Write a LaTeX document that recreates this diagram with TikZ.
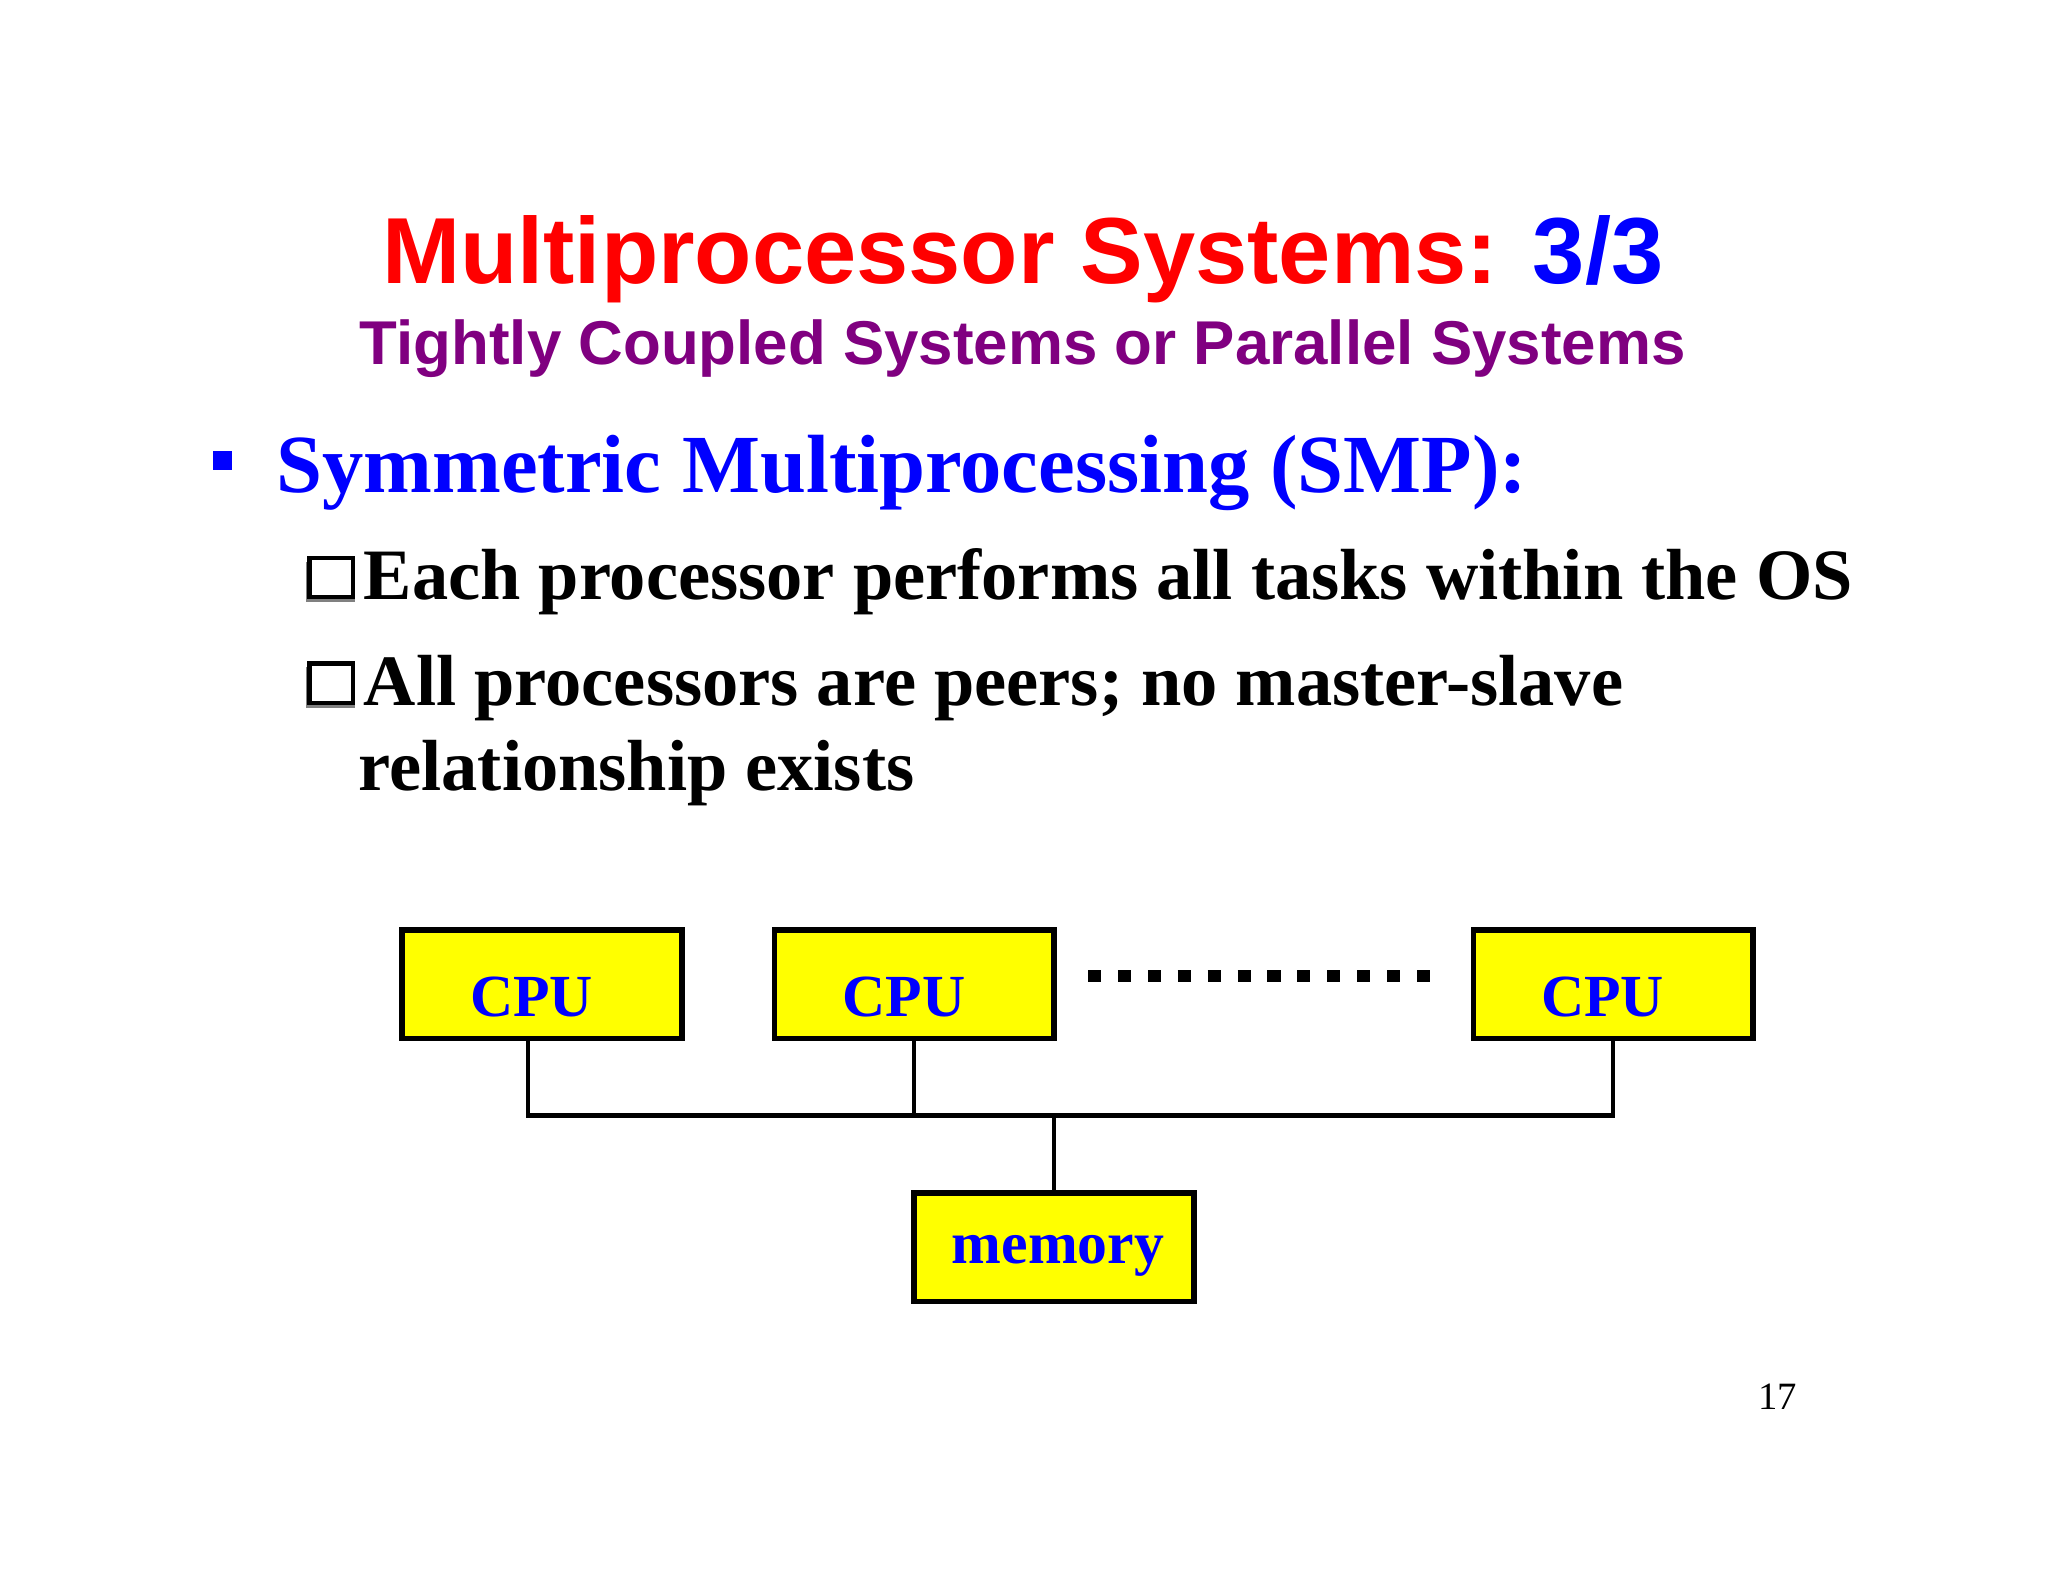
\documentclass[tikz,border=0pt]{standalone}
\usepackage{fontspec}
\setmainfont{Liberation Serif}
\newfontfamily\arialf{Liberation Sans}
\definecolor{ttlred}{RGB}{255,0,0}
\definecolor{ttlblue}{RGB}{0,0,255}
\definecolor{purp}{RGB}{128,0,128}
\definecolor{yel}{RGB}{255,255,0}
\begin{document}
\begin{tikzpicture}[x=0.01306cm,y=-0.01306cm,
  box/.style={draw=black,line width=1.6pt,fill=yel,minimum width=214*0.01306cm,minimum height=83*0.01306cm,inner sep=0pt},
  boxtxt/.style={font=\fontsize{17}{20}\selectfont\bfseries,text=ttlblue,anchor=base,inner sep=0pt},
  wire/.style={line width=1.2pt}]
\useasboundingbox (0,0) rectangle (1568,1211);
\node[font=\arialf\fontsize{26.7}{32}\selectfont\bfseries,anchor=base] (ttl) at (783,217) {\textcolor{ttlred}{Multiprocessor Systems:} \textcolor{ttlblue}{3/3}};
\node[font=\arialf\fontsize{17.6}{20}\selectfont\bfseries,text=purp,anchor=base] (sub) at (783,279) {Tightly Coupled Systems or Parallel Systems};
\fill[ttlblue] (163,345) rectangle (178,360);
\node[font=\fontsize{23.5}{28}\selectfont\bfseries,text=ttlblue,anchor=base west,inner sep=0pt] (smp) at (211,377) {Symmetric Multiprocessing (SMP):};
\foreach \yy in {424,505}{
  \fill[gray] (234,\yy+6) rectangle (272,\yy+37);
  \draw[line width=1.2pt,fill=white] (237,\yy+3) rectangle (270,\yy+33);
}
\node[font=\fontsize{20.6}{24}\selectfont\bfseries,anchor=base west,inner sep=0pt] (l1) at (278,459) {Each processor performs all tasks within the OS};
\node[font=\fontsize{20.6}{24}\selectfont\bfseries,anchor=base west,inner sep=0pt] (l2) at (278,540) {All processors are peers; no master-slave};
\node[font=\fontsize{20.6}{24}\selectfont\bfseries,anchor=base west,inner sep=0pt] (l3) at (274,605) {relationship exists};
\node[box] (c1) at (415,753.5) {};
\node[box] (c2) at (700,753.5) {};
\node[box] (c3) at (1235,753.5) {};
\node[box] (mem) at (807,955) {};
\node[boxtxt] (t1) at (407,778) {CPU};
\node[boxtxt] (t2) at (692,778) {CPU};
\node[boxtxt] (t3) at (1227,778) {CPU};
\node[boxtxt] (tm) at (810,967) {memory};
\coordinate (b1) at (404,854);
\coordinate (b2) at (700,854);
\coordinate (b3) at (1235,854);
\coordinate (bm) at (807,854);
\draw[wire] (c1.south -| b1) -- (b1) -- (b3) -- (c3.south -| b3);
\draw[wire] (c2.south) -- (b2);
\draw[wire] (bm) -- (mem.north);
\coordinate (d1) at (833,747);
\coordinate (d2) at (1106,747);
\draw[line width=9*0.01306cm,dash pattern=on 10*0.01306cm off 12.9*0.01306cm] (d1) -- (d2);
\node[font=\fontsize{11}{13}\selectfont,anchor=base] (pg) at (1361,1079) {17};
\end{tikzpicture}
\end{document}
